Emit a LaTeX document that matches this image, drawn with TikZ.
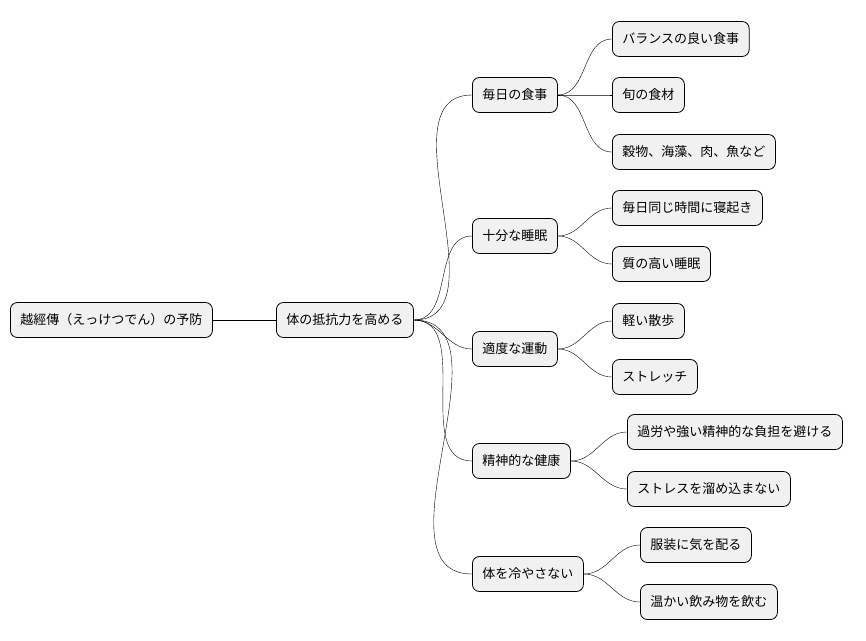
\documentclass[tikz,border=0pt]{standalone}
\usepackage{fontspec}
\setmainfont{Noto Sans CJK JP}
\usetikzlibrary{positioning}
\definecolor{boxfill}{RGB}{241, 241, 241}
\tikzset{
  topic/.style={draw=black, line width=0.8pt, fill=boxfill, rounded corners=7pt,
    minimum height=35pt, inner xsep=10pt, font=\fontsize{13}{15}\selectfont, anchor=west},
  branch/.style={line width=0.7pt, out=0, in=180}
}

\begin{document}
\begin{tikzpicture}[x=1pt, y=-1pt]
  \useasboundingbox (0,0) rectangle (866,640);

  % root and first level
  \node[topic] (root) at (10,320) {越經傳（えっけつでん）の予防};
  \node[topic] (body) at (276,320) {体の抵抗力を高める};

  % second level
  \node[topic] (meal)   at (472,95)  {毎日の食事};
  \node[topic] (sleep)  at (472,236) {十分な睡眠};
  \node[topic] (move)   at (472,349) {適度な運動};
  \node[topic] (mind)   at (472,461) {精神的な健康};
  \node[topic] (warm)   at (472,574) {体を冷やさない};

  % third level
  \node[topic] (balance) at (612,39)  {バランスの良い食事};
  \node[topic] (season)  at (612,95)  {旬の食材};
  \node[topic] (grain)   at (612,152) {穀物、海藻、肉、魚など};
  \node[topic] (hours)   at (612,208) {毎日同じ時間に寝起き};
  \node[topic] (quality) at (612,264) {質の高い睡眠};
  \node[topic] (walk)    at (612,321) {軽い散歩};
  \node[topic] (stretch) at (612,377) {ストレッチ};
  \node[topic] (strain)  at (627,432) {過労や強い精神的な負担を避ける};
  \node[topic] (stress)  at (627,489) {ストレスを溜め込まない};
  \node[topic] (clothes) at (640,545) {服装に気を配る};
  \node[topic] (drink)   at (640,602) {温かい飲み物を飲む};

  \draw[line width=0.7pt] (root) -- (body);
  \foreach \c in {meal, sleep, move, mind, warm}
    \draw (body.east) to[branch] (\c.west);
  \foreach \p/\c in {meal/balance, meal/season, meal/grain, sleep/hours, sleep/quality,
                     move/walk, move/stretch, mind/strain, mind/stress,
                     warm/clothes, warm/drink}
    \draw (\p.east) to[branch] (\c.west);
\end{tikzpicture}
\end{document}
